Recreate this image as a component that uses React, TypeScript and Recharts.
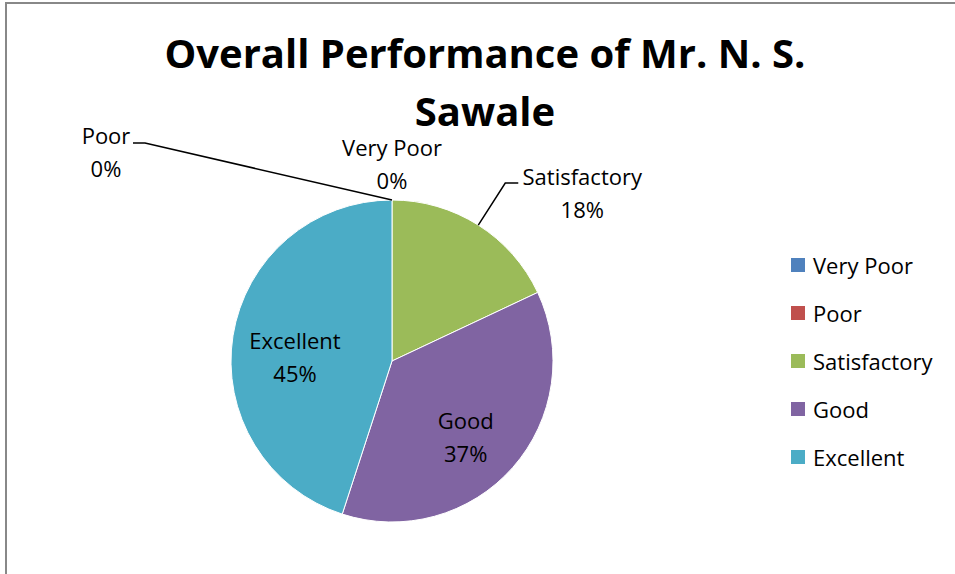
import React from "react";
import { PieChart, Pie, Cell, Legend } from "recharts";

// ratings and their share
const ratings = ["Very Poor", "Poor", "Satisfactory", "Good", "Excellent"];
const shares = [0, 0, 18, 37, 45];
const colors = ["#4F81BD", "#C0504D", "#9BBB59", "#8064A2", "#4BACC6"];

const data = ratings.map((name, i) => ({ name, value: shares[i] }));

const FONT = "'Open Sans', sans-serif";
const RADIAN = Math.PI / 180;

// how each data label is placed (offsets from the sector's edge point, or inside)
const labelStyle: Record<string, any> = {
  "Very Poor": { mode: "out", textDx: 0, textDy: -44, line: null },
  Poor: { mode: "out", textDx: -286, textDy: -56, line: [[-247, -57], [-259, -57]] },
  Satisfactory: { mode: "out", textDx: 104, textDy: -40, line: [[27, -42], [40, -42]] },
  Good: { mode: "in" },
  Excellent: { mode: "in" },
};

const renderLabel = (props: any) => {
  const { cx, cy, midAngle, outerRadius, name, percent } = props;
  const pct = `${Math.round(percent * 100)}%`;
  const cfg = labelStyle[name];
  const cos = Math.cos(-midAngle * RADIAN);
  const sin = Math.sin(-midAngle * RADIAN);
  if (cfg.mode === "in") {
    const r = outerRadius * 0.61;
    const x = cx + r * cos;
    const y = cy + r * sin;
    return (
      <text x={x} y={y + 3} textAnchor="middle" fill="#000" fontSize={22} fontFamily={FONT}>
        <tspan x={x} dy={0}>{name}</tspan>
        <tspan x={x} dy={33}>{pct}</tspan>
      </text>
    );
  }
  const ex = cx + outerRadius * cos;
  const ey = cy + outerRadius * sin;
  const tx = ex + cfg.textDx;
  const ty = ey + cfg.textDy;
  const pts = cfg.line
    ? [[ex, ey], ...cfg.line.map(([dx, dy]: number[]) => [ex + dx, ey + dy])]
    : null;
  return (
    <g>
      {pts && (
        <polyline
          points={pts.map((p: number[]) => p.join(",")).join(" ")}
          fill="none"
          stroke="#000"
          strokeWidth={1.5}
        />
      )}
      <text x={tx} y={ty} textAnchor="middle" fill="#000" fontSize={22} fontFamily={FONT}>
        <tspan x={tx} dy={0}>{name}</tspan>
        <tspan x={tx} dy={33}>{pct}</tspan>
      </text>
    </g>
  );
};

const renderLegend = (props: any) => {
  const payload = [...(props.payload || [])].sort(
    (a: any, b: any) => ratings.indexOf(a.value) - ratings.indexOf(b.value)
  );
  return (
    <div style={{ fontFamily: FONT, fontSize: 22, color: "#000" }}>
      {payload.map((entry: any) => (
        <div key={entry.value} style={{ display: "flex", alignItems: "center", height: 48 }}>
          <span
            style={{ display: "inline-block", width: 14, height: 14, background: entry.color, marginRight: 8 }}
          />
          <span>{entry.value}</span>
        </div>
      ))}
    </div>
  );
};

export default function App() {
  return (
    <div style={{ position: "absolute", left: 0, top: 0, width: 955, height: 574, overflow: "hidden", background: "#fff" }}>
      <div
        style={{
          position: "absolute",
          left: 5,
          top: 2,
          width: 1000,
          height: 700,
          border: "2px solid #888",
          boxSizing: "border-box",
        }}
      />
      <div
        style={{
          position: "absolute",
          left: 0,
          width: 970,
          top: 24,
          textAlign: "center",
          fontFamily: FONT,
          fontWeight: 700,
          fontSize: 40,
          lineHeight: "58px",
          color: "#000",
        }}
      >
        Overall Performance of Mr. N. S.
        <br />
        Sawale
      </div>
      <PieChart
        width={955}
        height={574}
        margin={{ top: 0, right: 0, bottom: 0, left: 0 }}
        style={{ position: "absolute", left: 0, top: 0 }}
      >
        <Pie
          data={data}
          dataKey="value"
          nameKey="name"
          cx={392}
          cy={361}
          outerRadius={161}
          startAngle={90}
          endAngle={-270}
          stroke="#fff"
          strokeWidth={1}
          label={renderLabel}
          labelLine={false}
          isAnimationActive={false}
        >
          {data.map((d, i) => (
            <Cell key={d.name} fill={colors[i]} />
          ))}
        </Pie>
        <Legend
          layout="vertical"
          content={renderLegend}
          wrapperStyle={{ position: "absolute", left: 791, top: 241, width: 164 }}
        />
      </PieChart>
    </div>
  );
}
